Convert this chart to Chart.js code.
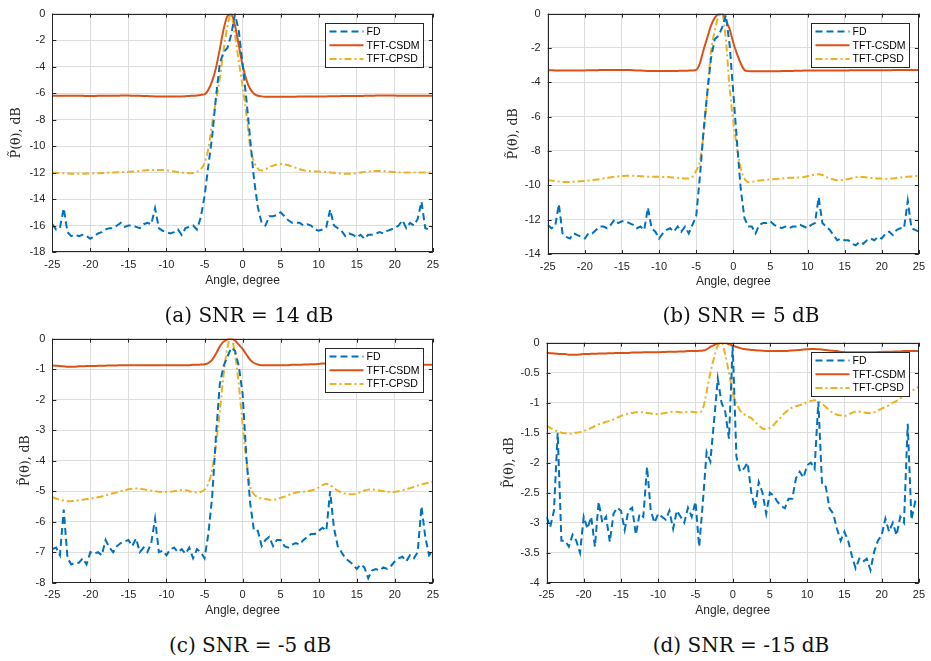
<!DOCTYPE html>
<html>
<head>
<meta charset="utf-8">
<title>Spatial spectrum, FD vs TFT</title>
<script src="https://cdn.jsdelivr.net/npm/chart.js@4.4.0/dist/chart.umd.min.js"></script>
<style>
  html, body { margin: 0; padding: 0; background: #fff; }
  #page { position: relative; width: 931px; height: 661px; overflow: hidden; background: #fff; }
  .panel { position: absolute; }
  .panel canvas { display: block; }
  .caption {
    position: absolute; width: 320px; text-align: center;
    font-family: 'DejaVu Serif', serif; font-size: 20px; line-height: 24px; color: #111;
  }
</style>
</head>
<body>
<div id="page">
  <div class="panel" id="boxA"><canvas id="chartA"></canvas></div>
  <div class="panel" id="boxB"><canvas id="chartB"></canvas></div>
  <div class="panel" id="boxC"><canvas id="chartC"></canvas></div>
  <div class="panel" id="boxD"><canvas id="chartD"></canvas></div>
  <div class="caption" style="left:89px; top:303px;">(a) SNR = 14 dB</div>
  <div class="caption" style="left:581px; top:303px;">(b) SNR = 5 dB</div>
  <div class="caption" style="left:90px; top:633px;">(c) SNR = -5 dB</div>
  <div class="caption" style="left:581px; top:633px;">(d) SNR = -15 dB</div>
</div>
<script>
// angle grid, -25 .. 25 degree in 0.5 degree steps (101 samples)
const angles = Array.from({ length: 101 }, (_, i) => -25 + i * 0.5);

const seriesNames = ['FD', 'TFT-CSDM', 'TFT-CPSD'];
const xTicks = [-25, -20, -15, -10, -5, 0, 5, 10, 15, 20, 25];

// (a) SNR = 14 dB
const fdA = [
  -15.9, -16.3, -16.2, -14.7, -16.5, -16.8, -16.7, -16.8, -16.7, -16.8,
  -17.0, -16.8, -16.6, -16.5, -16.3, -16.2, -16.2, -16.0, -15.8, -16.1,
  -16.0, -16.0, -16.1, -16.2, -15.9, -15.8, -15.9, -14.7, -16.2, -16.4,
  -16.5, -16.6, -16.5, -16.3, -16.7, -16.2, -16.1, -16.0, -16.3, -15.4,
  -13.8, -11.5, -9.3, -6.3, -3.8, -2.9, -2.6, -1.6, -0.05, -1.3,
  -3.8, -6.5, -9.5, -12.5, -14.6, -15.8, -16.0, -15.3, -15.3, -15.2,
  -15.0, -15.3, -15.6, -15.8, -15.8, -15.8, -16.0, -15.9, -16.0, -16.3,
  -16.4, -16.3, -16.1, -14.8, -16.0, -16.2, -16.4, -16.8, -16.6, -16.7,
  -16.9, -16.7, -17.0, -16.7, -16.7, -16.6, -16.5, -16.6, -16.4, -16.3,
  -16.2, -16.0, -15.6, -16.2, -15.8, -16.0, -15.5, -14.2, -16.2, -16.3,
  -16.2
];
const csdmA = [
  -6.20, -6.20, -6.20, -6.20, -6.20, -6.20, -6.21, -6.21, -6.21, -6.22,
  -6.22, -6.22, -6.21, -6.21, -6.20, -6.20, -6.20, -6.20, -6.19, -6.19,
  -6.19, -6.20, -6.20, -6.21, -6.22, -6.23, -6.24, -6.25, -6.25, -6.26,
  -6.26, -6.26, -6.26, -6.25, -6.25, -6.24, -6.22, -6.20, -6.18, -6.14,
  -6.10, -5.75, -5.10, -4.10, -2.70, -1.20, -0.20, -0.05, -0.90, -2.40,
  -3.90, -5.00, -5.70, -6.05, -6.20, -6.25, -6.27, -6.27, -6.28, -6.28,
  -6.28, -6.28, -6.28, -6.27, -6.27, -6.26, -6.26, -6.25, -6.25, -6.25,
  -6.25, -6.25, -6.25, -6.24, -6.24, -6.24, -6.23, -6.23, -6.23, -6.22,
  -6.22, -6.22, -6.21, -6.20, -6.20, -6.19, -6.18, -6.18, -6.18, -6.19,
  -6.19, -6.20, -6.20, -6.20, -6.20, -6.20, -6.20, -6.20, -6.20, -6.20,
  -6.20
];
const cpsdA = [
  -12.00, -12.02, -12.04, -12.06, -12.08, -12.09, -12.10, -12.10, -12.10, -12.08,
  -12.07, -12.06, -12.05, -12.04, -12.02, -12.00, -11.99, -11.98, -11.97, -11.96,
  -11.95, -11.93, -11.90, -11.87, -11.84, -11.82, -11.80, -11.80, -11.80, -11.81,
  -11.83, -11.87, -11.92, -11.97, -12.00, -12.03, -12.05, -12.03, -11.95, -11.75,
  -11.30, -10.20, -8.30, -6.60, -4.90, -2.80, -1.00, -0.05, -1.60, -3.60,
  -5.50, -7.60, -10.10, -11.20, -11.70, -11.85, -11.75, -11.60, -11.48, -11.40,
  -11.35, -11.38, -11.45, -11.55, -11.65, -11.75, -11.82, -11.87, -11.90, -11.92,
  -11.93, -11.95, -11.97, -11.99, -12.02, -12.05, -12.08, -12.10, -12.10, -12.08,
  -12.05, -12.00, -11.95, -11.92, -11.90, -11.88, -11.88, -11.90, -11.92, -11.94,
  -11.96, -11.98, -12.00, -12.00, -12.00, -12.00, -12.00, -12.00, -12.00, -12.00,
  -12.00
];

// (b) SNR = 5 dB
const fdB = [
  -12.3, -12.5, -12.4, -11.1, -12.8, -13.0, -13.1, -12.8, -12.9, -13.0,
  -13.1, -12.8, -12.8, -12.6, -12.4, -12.4, -12.5, -12.3, -12.0, -12.2,
  -12.1, -12.1, -12.2, -12.3, -12.5, -12.4, -12.6, -11.3, -12.5, -12.7,
  -13.1, -12.8, -12.6, -12.5, -12.7, -12.4, -12.7, -12.4, -12.8, -12.3,
  -11.8, -9.5, -6.8, -4.6, -2.6, -1.5, -1.3, -0.8, -0.1, -1.8,
  -4.6, -7.5, -10.2, -11.9, -12.4, -12.4, -12.8, -12.3, -12.2, -12.2,
  -12.1, -12.3, -12.4, -12.5, -12.4, -12.5, -12.4, -12.4, -12.3, -12.4,
  -12.5, -12.3, -12.2, -10.7, -12.2, -12.4, -12.6, -12.9, -13.2, -13.1,
  -13.2, -13.2, -13.4, -13.5, -13.3, -13.4, -13.2, -13.1, -13.2, -13.0,
  -13.1, -12.8, -12.7, -12.9, -12.6, -12.5, -12.5, -10.9, -12.5, -12.6,
  -12.7
];
const csdmB = [
  -3.30, -3.30, -3.31, -3.31, -3.31, -3.31, -3.31, -3.31, -3.31, -3.31,
  -3.31, -3.30, -3.30, -3.30, -3.29, -3.29, -3.29, -3.29, -3.28, -3.28,
  -3.28, -3.28, -3.29, -3.30, -3.31, -3.32, -3.33, -3.34, -3.35, -3.35,
  -3.35, -3.35, -3.35, -3.35, -3.34, -3.34, -3.33, -3.33, -3.32, -3.31,
  -3.28, -2.90, -2.10, -1.40, -0.70, -0.25, -0.03, 0.00, -0.40, -0.90,
  -1.70, -2.35, -2.90, -3.28, -3.35, -3.36, -3.36, -3.36, -3.36, -3.36,
  -3.36, -3.36, -3.36, -3.35, -3.35, -3.34, -3.34, -3.33, -3.33, -3.32,
  -3.32, -3.32, -3.31, -3.31, -3.31, -3.31, -3.31, -3.31, -3.31, -3.31,
  -3.31, -3.31, -3.30, -3.30, -3.30, -3.30, -3.30, -3.30, -3.30, -3.30,
  -3.30, -3.30, -3.30, -3.29, -3.29, -3.29, -3.29, -3.28, -3.28, -3.28,
  -3.28
];
const cpsdB = [
  -9.70, -9.72, -9.75, -9.78, -9.80, -9.80, -9.80, -9.79, -9.78, -9.76,
  -9.74, -9.72, -9.70, -9.67, -9.64, -9.60, -9.57, -9.53, -9.50, -9.48,
  -9.46, -9.45, -9.44, -9.44, -9.45, -9.47, -9.48, -9.50, -9.50, -9.50,
  -9.50, -9.51, -9.52, -9.53, -9.55, -9.56, -9.58, -9.60, -9.60, -9.50,
  -9.15, -8.60, -7.00, -4.60, -2.20, -1.00, -0.20, -0.02, -1.50, -4.30,
  -6.30, -7.80, -9.00, -9.60, -9.80, -9.80, -9.75, -9.72, -9.70, -9.68,
  -9.66, -9.64, -9.62, -9.60, -9.58, -9.56, -9.56, -9.55, -9.55, -9.52,
  -9.47, -9.42, -9.37, -9.35, -9.40, -9.50, -9.60, -9.66, -9.70, -9.70,
  -9.68, -9.63, -9.58, -9.53, -9.51, -9.52, -9.55, -9.57, -9.59, -9.60,
  -9.61, -9.62, -9.62, -9.60, -9.58, -9.55, -9.52, -9.50, -9.48, -9.46,
  -9.45
];

// (c) SNR = -5 dB
const fdC = [
  -6.9, -6.85, -7.1, -5.6, -7.2, -7.4, -7.35, -7.35, -7.2, -7.4,
  -7.0, -7.05, -7.0, -7.1, -6.6, -6.85, -7.0, -6.8, -6.7, -6.65,
  -6.6, -6.8, -6.55, -7.0, -6.85, -7.0, -6.7, -5.9, -7.0, -6.95,
  -7.1, -6.9, -6.85, -7.0, -6.9, -7.05, -6.85, -7.2, -6.9, -7.0,
  -7.2, -6.4, -5.2, -3.2, -1.5, -0.9, -0.6, -0.3, -0.4, -0.9,
  -1.8, -3.9, -5.4, -6.3, -6.3, -6.8, -6.6, -6.5, -6.8, -6.6,
  -6.6, -6.8, -6.85, -6.75, -6.7, -6.75, -6.6, -6.5, -6.4, -6.4,
  -6.3, -6.2, -6.3, -5.0, -6.2, -6.8, -7.0, -7.2, -7.3, -7.4,
  -7.55, -7.4, -7.5, -7.85, -7.6, -7.55, -7.6, -7.5, -7.55, -7.45,
  -7.3, -7.2, -7.15, -7.3, -7.1, -7.2, -7.0, -5.5, -6.5, -7.1,
  -6.95
];
const csdmC = [
  -0.88, -0.89, -0.90, -0.91, -0.92, -0.92, -0.92, -0.91, -0.91, -0.90,
  -0.90, -0.90, -0.89, -0.89, -0.89, -0.88, -0.88, -0.88, -0.87, -0.87,
  -0.87, -0.87, -0.87, -0.87, -0.87, -0.87, -0.87, -0.87, -0.87, -0.87,
  -0.87, -0.87, -0.87, -0.87, -0.87, -0.87, -0.87, -0.86, -0.86, -0.85,
  -0.84, -0.80, -0.70, -0.50, -0.26, -0.10, -0.02, 0.00, -0.06, -0.20,
  -0.34, -0.52, -0.70, -0.80, -0.85, -0.87, -0.87, -0.87, -0.87, -0.87,
  -0.87, -0.87, -0.87, -0.86, -0.86, -0.86, -0.85, -0.85, -0.84, -0.84,
  -0.83, -0.82, -0.82, -0.82, -0.83, -0.84, -0.85, -0.86, -0.86, -0.87,
  -0.87, -0.87, -0.87, -0.87, -0.87, -0.87, -0.87, -0.87, -0.87, -0.87,
  -0.87, -0.87, -0.87, -0.87, -0.86, -0.86, -0.86, -0.86, -0.86, -0.86,
  -0.86
];
const cpsdC = [
  -5.20, -5.24, -5.28, -5.31, -5.33, -5.33, -5.32, -5.30, -5.28, -5.26,
  -5.25, -5.22, -5.20, -5.17, -5.14, -5.10, -5.07, -5.04, -5.00, -4.97,
  -4.94, -4.92, -4.91, -4.92, -4.94, -4.96, -4.98, -5.00, -5.02, -5.03,
  -5.03, -5.02, -5.00, -4.98, -4.96, -4.97, -5.00, -5.03, -5.04, -5.02,
  -4.95, -4.75, -4.30, -3.50, -2.40, -1.20, -0.30, 0.00, -0.50, -1.50,
  -2.80, -4.00, -4.85, -5.10, -5.20, -5.24, -5.26, -5.28, -5.28, -5.27,
  -5.22, -5.18, -5.13, -5.08, -5.05, -5.03, -5.02, -5.00, -4.98, -4.94,
  -4.88, -4.80, -4.76, -4.80, -4.90, -4.98, -5.04, -5.08, -5.10, -5.10,
  -5.08, -5.03, -4.98, -4.95, -4.94, -4.96, -4.98, -5.00, -5.02, -5.03,
  -5.02, -5.00, -4.97, -4.94, -4.90, -4.86, -4.82, -4.78, -4.75, -4.72,
  -4.70
];

// (d) SNR = -15 dB
const fdD = [
  -2.9, -3.07, -2.8, -1.5, -3.3, -3.3, -3.4, -3.2, -3.3, -3.5,
  -2.9, -3.1, -2.9, -3.4, -2.65, -3.0, -2.9, -3.32, -2.85, -2.75,
  -2.8, -3.12, -2.8, -2.75, -3.2, -2.85, -2.9, -2.07, -2.8, -3.0,
  -2.85, -2.9, -2.95, -2.8, -3.1, -2.8, -2.9, -3.0, -2.75, -2.9,
  -2.65, -3.4, -2.65, -1.82, -1.98, -1.3, -0.6, -1.0, -1.15, -1.6,
  -0.04, -1.9, -2.15, -2.1, -2.0, -2.5, -2.76, -2.32, -2.5, -2.85,
  -2.5, -2.55, -2.65, -2.72, -2.76, -2.6, -2.6, -2.26, -2.15, -2.25,
  -2.04, -2.0, -2.1, -0.98, -2.37, -2.4, -2.76, -2.85, -3.1, -3.3,
  -3.15, -3.3, -3.55, -3.76, -3.6, -3.65, -3.6, -3.79, -3.48, -3.3,
  -3.21, -2.93, -3.15, -3.0, -3.21, -2.9, -3.0, -1.35, -2.95, -2.65,
  -2.7
];
const csdmD = [
  -0.170, -0.175, -0.180, -0.185, -0.190, -0.190, -0.200, -0.200, -0.200, -0.195,
  -0.190, -0.190, -0.185, -0.185, -0.180, -0.180, -0.180, -0.175, -0.175, -0.170,
  -0.170, -0.170, -0.170, -0.165, -0.165, -0.165, -0.160, -0.160, -0.160, -0.160,
  -0.160, -0.155, -0.155, -0.150, -0.150, -0.150, -0.145, -0.145, -0.140, -0.140,
  -0.140, -0.135, -0.130, -0.110, -0.070, -0.040, -0.010, 0.000, -0.005, -0.025,
  -0.050, -0.070, -0.090, -0.105, -0.115, -0.120, -0.125, -0.130, -0.135, -0.138,
  -0.140, -0.140, -0.140, -0.140, -0.140, -0.135, -0.130, -0.125, -0.120, -0.115,
  -0.110, -0.105, -0.105, -0.110, -0.115, -0.120, -0.130, -0.135, -0.140, -0.150,
  -0.155, -0.160, -0.160, -0.160, -0.160, -0.160, -0.160, -0.160, -0.160, -0.155,
  -0.155, -0.150, -0.150, -0.150, -0.145, -0.145, -0.140, -0.140, -0.140, -0.140,
  -0.140
];
const cpsdD = [
  -1.38, -1.42, -1.45, -1.48, -1.50, -1.51, -1.52, -1.51, -1.50, -1.49,
  -1.47, -1.45, -1.42, -1.39, -1.36, -1.34, -1.32, -1.30, -1.28, -1.25,
  -1.22, -1.20, -1.18, -1.17, -1.16, -1.16, -1.16, -1.17, -1.18, -1.19,
  -1.19, -1.18, -1.17, -1.16, -1.15, -1.15, -1.16, -1.16, -1.15, -1.15,
  -1.16, -1.16, -1.10, -0.82, -0.50, -0.25, -0.05, 0.00, -0.20, -0.50,
  -0.83, -1.00, -1.13, -1.19, -1.23, -1.26, -1.32, -1.38, -1.43, -1.44,
  -1.42, -1.37, -1.30, -1.24, -1.17, -1.12, -1.08, -1.06, -1.04, -1.02,
  -0.99, -0.97, -0.96, -0.98, -1.02, -1.07, -1.13, -1.17, -1.20, -1.21,
  -1.22, -1.20, -1.17, -1.15, -1.15, -1.16, -1.17, -1.17, -1.16, -1.13,
  -1.10, -1.07, -1.04, -1.00, -0.97, -0.93, -0.88, -0.84, -0.80, -0.77,
  -0.73
];

(function () {
  'use strict';

  const AXIS_COLOR = '#262626';
  const GRID_COLOR = '#dedede';
  const SANS = "'Liberation Sans', Arial, sans-serif";

  const styles = [
    { color: '#0072BD', dash: [7, 4], width: 2, smooth: false },
    { color: '#D95319', dash: [], width: 2, smooth: true },
    { color: '#EDB120', dash: [7, 3, 2, 3], width: 2, smooth: true },
  ];

  // box = canvas rectangle on the page, plot = wanted chart area
  const panels = [
    { id: 'A', series: [fdA, csdmA, cpsdA], yMin: -18, yStep: 2,
      box: { left: 4, top: 0, width: 441, height: 290 },
      plot: { left: 52.3, top: 8, right: 436, bottom: 252 } },
    { id: 'B', series: [fdB, csdmB, cpsdB], yMin: -14, yStep: 2,
      box: { left: 501, top: 0, width: 430, height: 291 },
      plot: { left: 547.7, top: 8, right: 924, bottom: 254 } },
    { id: 'C', series: [fdC, csdmC, cpsdC], yMin: -8, yStep: 1,
      box: { left: 13, top: 325, width: 432, height: 295 },
      plot: { left: 52.3, top: 337.7, right: 436, bottom: 582.7 } },
    { id: 'D', series: [fdD, csdmD, cpsdD], yMin: -4, yStep: 0.5,
      box: { left: 496.5, top: 325, width: 434.5, height: 295 },
      plot: { left: 546, top: 342.7, right: 928, bottom: 582.7 } },
  ];

  // closed axes box with inward ticks, plus the framed legend in the upper right
  const matlabAxes = {
    id: 'matlabAxes',
    afterDatasetsDraw(chart) {
      const { ctx, chartArea: a } = chart;
      const xs = chart.scales.x;
      const ys = chart.scales.y;
      const len = 4;
      ctx.save();
      ctx.strokeStyle = AXIS_COLOR;
      ctx.lineWidth = 1;
      ctx.beginPath();
      xs.ticks.forEach((t) => {
        const px = Math.round(xs.getPixelForValue(t.value)) + 0.5;
        ctx.moveTo(px, a.bottom); ctx.lineTo(px, a.bottom - len);
        ctx.moveTo(px, a.top); ctx.lineTo(px, a.top + len);
      });
      ys.ticks.forEach((t) => {
        const py = Math.round(ys.getPixelForValue(t.value)) + 0.5;
        ctx.moveTo(a.left, py); ctx.lineTo(a.left + len, py);
        ctx.moveTo(a.right, py); ctx.lineTo(a.right - len, py);
      });
      ctx.stroke();
      ctx.strokeRect(Math.round(a.left) + 0.5, Math.round(a.top) + 0.5,
        Math.round(a.width) - 1, Math.round(a.height) - 1);
      ctx.restore();
    },
    afterDraw(chart) {
      const { ctx, chartArea: a } = chart;
      const w = 98, h = 44;
      const left = Math.round(a.right - 9.5 - w) + 0.5;
      const top = Math.round(a.top + 9.5) + 0.5;
      ctx.save();
      ctx.fillStyle = '#fff';
      ctx.fillRect(left, top, w, h);
      ctx.strokeStyle = AXIS_COLOR;
      ctx.lineWidth = 1;
      ctx.strokeRect(left, top, w, h);
      ctx.font = '10.5px ' + SANS;
      ctx.textBaseline = 'middle';
      chart.data.datasets.forEach((ds, i) => {
        const y = top + 8 + i * 13.7;
        ctx.beginPath();
        ctx.setLineDash(ds.borderDash || []);
        ctx.strokeStyle = ds.borderColor;
        ctx.lineWidth = ds.borderWidth;
        ctx.moveTo(left + 4, y);
        ctx.lineTo(left + 38, y);
        ctx.stroke();
        ctx.setLineDash([]);
        ctx.fillStyle = '#000';
        ctx.fillText(ds.label, left + 41, y + 0.5);
      });
      ctx.restore();
    },
  };

  function fmtTick(v) {
    return String(Math.round(v * 100) / 100);
  }

  function buildPanel(p) {
    const holder = document.getElementById('box' + p.id);
    holder.style.left = p.box.left + 'px';
    holder.style.top = p.box.top + 'px';
    const canvas = document.getElementById('chart' + p.id);
    canvas.width = p.box.width;
    canvas.height = p.box.height;
    canvas.style.width = p.box.width + 'px';
    canvas.style.height = p.box.height + 'px';

    const yWidth = p.plot.left - p.box.left;
    const xHeight = p.box.top + p.box.height - p.plot.bottom;

    const datasets = p.series.map((vals, i) => ({
      label: seriesNames[i],
      data: vals.map((v, k) => ({ x: angles[k], y: v })),
      borderColor: styles[i].color,
      borderWidth: styles[i].width,
      borderDash: styles[i].dash,
      cubicInterpolationMode: styles[i].smooth ? 'monotone' : 'default',
      tension: 0,
      pointRadius: 0,
      fill: false,
    }));

    return new Chart(canvas.getContext('2d'), {
      type: 'line',
      data: { datasets },
      plugins: [matlabAxes],
      options: {
        responsive: false,
        animation: false,
        devicePixelRatio: 1,
        events: [],
        layout: {
          autoPadding: false,
          padding: {
            left: 0,
            top: p.plot.top - p.box.top,
            right: p.box.left + p.box.width - p.plot.right,
            bottom: 0,
          },
        },
        plugins: { legend: { display: false }, tooltip: { enabled: false } },
        scales: {
          x: {
            type: 'linear',
            min: -25,
            max: 25,
            afterBuildTicks: (s) => { s.ticks = xTicks.map((v) => ({ value: v })); },
            afterFit: (s) => { s.height = xHeight; },
            grid: { color: GRID_COLOR, drawTicks: false, lineWidth: 1 },
            border: { display: false },
            ticks: {
              padding: 6, color: AXIS_COLOR, maxRotation: 0, autoSkip: false,
              font: { family: SANS, size: 11 }, callback: fmtTick,
            },
            title: {
              display: true, text: 'Angle, degree', color: AXIS_COLOR,
              font: { family: SANS, size: 12 }, padding: { top: 0, bottom: 2 },
            },
          },
          y: {
            type: 'linear',
            min: p.yMin,
            max: 0,
            ticks: {
              stepSize: p.yStep, padding: 7, color: AXIS_COLOR, autoSkip: false,
              font: { family: SANS, size: 11 }, callback: fmtTick,
            },
            afterFit: (s) => { s.width = yWidth; },
            grid: { color: GRID_COLOR, drawTicks: false, lineWidth: 1 },
            border: { display: false },
            title: {
              display: true, text: 'P\u0303(\u03b8), dB', color: AXIS_COLOR,
              font: { family: "'DejaVu Serif', serif", size: 12.5 },
              padding: { top: 5, bottom: 0 },
            },
          },
        },
      },
    });
  }

  panels.forEach(buildPanel);
})();
</script>
</body>
</html>
